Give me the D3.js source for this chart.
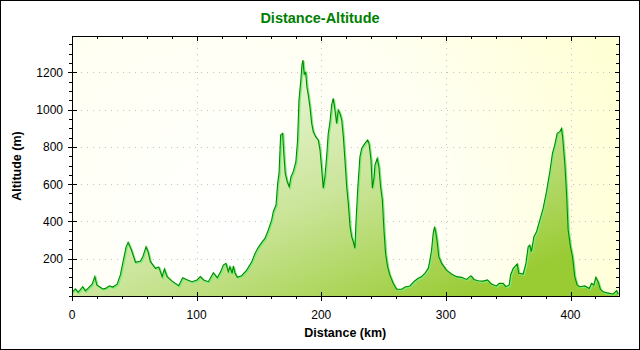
<!DOCTYPE html>
<html><head><meta charset="utf-8">
<script src="https://cdn.jsdelivr.net/npm/d3@7/dist/d3.min.js"></script>
<style>body{margin:0;background:#fff}svg{display:block}</style>
</head><body>
<script>
const title = "Distance-Altitude";
const xTitle = "Distance (km)";
const yTitle = "Altitude (m)";
const xMajorTicks = [0, 100, 200, 300, 400];
const yMajorTicks = [200, 400, 600, 800, 1000, 1200];
const distanceKm = [0,2.7,4.9,8.6,10.7,13.4,16.1,18.3,19.9,22,24.7,26.9,30,32.7,36.2,38.8,41.5,43.4,45,47.6,50.9,54.9,56.8,59.4,61,62.9,66.9,69.6,72.3,74.1,76.3,80.3,85.6,88.8,92.3,96.3,100.3,103,105.6,109.4,113.4,116.5,119.3,121.4,123.5,125.4,126.7,128.5,129.4,130.7,132.6,136.1,140.2,144.2,146.9,149.5,152.1,154.8,157.5,160.2,161.5,163.7,165,166.1,167.4,169,170.1,171.1,172.7,174.3,175.7,177.5,179.6,181,182.1,183.5,184.5,185.3,186.3,187.5,188.5,189.6,190.9,192.3,193.6,195.5,197.6,199,200.3,201.6,202.9,204.3,205.6,207,208.3,209.6,211,212.3,213.6,215,216.4,217.7,219,220.4,221.7,223.1,224.4,225.7,227,227.8,229.2,231,232.4,235,237.2,238.3,239.9,241,242.4,243.1,244.9,246.2,247.6,249,250.3,251.6,253.2,255,257.7,260.5,264.5,267.2,271.1,275.1,277.8,280.5,283.2,285.8,287.2,288.5,289.8,290.9,292,293,294.3,296.6,300.5,304.5,308.6,312.6,316.6,320.1,322.5,325.9,329.9,333.4,336.6,340.6,342.8,345.9,348.1,350.8,351.9,354,357.2,358.5,362,364.2,366,367.3,368.6,370.6,372.7,375.4,378,380.7,383.4,385.5,387.3,389.3,391.4,392.8,393.6,395.4,396.8,398.1,400,401.6,403.4,405.3,407.5,411.5,415,416.8,418.7,420.3,422.1,424,426.2,428.8,431.5,434.2,436.9,438.2];
const altitudeM = [20,38,20,50,27,45,63,104,59,50,38,41,55,48,63,113,202,264,288,248,181,188,211,264,238,184,149,156,104,145,104,80,55,98,87,77,86,104,86,77,125,98,131,166,175,131,157,122,161,125,100,109,139,184,229,261,286,309,354,408,452,488,604,658,864,873,747,658,613,586,640,667,720,837,1051,1150,1240,1266,1190,1200,1120,1078,1015,926,881,855,837,783,685,578,640,747,873,935,1024,1060,998,926,998,980,944,855,730,586,497,372,318,291,256,390,569,747,792,819,837,819,730,578,640,703,738,694,586,515,354,229,157,113,68,36,36,48,54,82,95,104,122,148,193,247,336,372,336,291,211,175,139,118,104,100,89,109,89,82,80,86,64,54,68,68,50,59,113,148,172,122,118,175,264,273,238,318,345,408,470,560,667,765,810,873,882,899,855,712,551,354,264,211,104,59,50,54,41,68,59,100,77,36,23,18,14,11,29,10];

const W = 640, H = 350;
const L = 72, R = 618.5, T = 36, B = 296;
const svg = d3.select("body").append("svg").attr("width", W).attr("height", H);
const defs = svg.append("defs");

const bg = defs.append("radialGradient").attr("id","bg").attr("gradientUnits","userSpaceOnUse")
  .attr("cx", 230).attr("cy", 230).attr("r", 420);
bg.append("stop").attr("offset","0").attr("stop-color","#ffffff");
bg.append("stop").attr("offset","0.55").attr("stop-color","#fffff2");
bg.append("stop").attr("offset","1").attr("stop-color","#ffffd4");

const ag = defs.append("linearGradient").attr("id","ag").attr("gradientUnits","userSpaceOnUse")
  .attr("x1", 300).attr("y1", 40).attr("x2", 420).attr("y2", 320);
ag.append("stop").attr("offset","0").attr("stop-color","#eff8e0");
ag.append("stop").attr("offset","0.5").attr("stop-color","#cbe59a");
ag.append("stop").attr("offset","1").attr("stop-color","#99cb33");

const x = d3.scaleLinear().domain([0, 438.5]).range([L, R]);
const y = d3.scaleLinear().domain([0, 1395]).range([B, T]);

svg.append("rect").attr("x",0.5).attr("y",0.5).attr("width",W-1).attr("height",H-1)
  .attr("fill","#fff").attr("stroke","#000");
svg.append("rect").attr("x",L).attr("y",T).attr("width",R-L).attr("height",B-T).attr("fill","url(#bg)");

// grid
const g = svg.append("g").attr("stroke","#c4c4c4").attr("stroke-dasharray","1,5");
yMajorTicks.forEach(v => { const yy = Math.round(y(v))+0.5;
  g.append("line").attr("x1",L+3).attr("x2",R).attr("y1",yy).attr("y2",yy); });
xMajorTicks.slice(1).forEach(v => { const xx = Math.round(x(v))+0.5;
  g.append("line").attr("x1",xx).attr("x2",xx).attr("y1",T).attr("y2",B); });

const pts = distanceKm.map((d,i)=>[d, altitudeM[i]]);
const area = d3.area().x(d=>x(d[0])).y0(B).y1(d=>y(d[1]));
const line = d3.line().x(d=>x(d[0])).y(d=>y(d[1]));
svg.append("path").datum(pts).attr("d", area).attr("fill","url(#ag)");
svg.append("path").datum(pts).attr("d", line).attr("fill","none").attr("stroke","#7ced7c")
  .attr("stroke-width",1.6).attr("transform","translate(1,1)");
svg.append("path").datum(pts).attr("d", line).attr("fill","none").attr("stroke","#008a00")
  .attr("stroke-width",1.1);

// axes frame
const ax = svg.append("g").attr("stroke","#000").attr("stroke-width",1).attr("shape-rendering","crispEdges");
ax.append("line").attr("x1",L+0.5).attr("x2",L+0.5).attr("y1",T).attr("y2",B+1);
ax.append("line").attr("x1",L).attr("x2",R+1).attr("y1",B+0.5).attr("y2",B+0.5);
ax.append("line").attr("x1",L).attr("x2",R+1).attr("y1",T+0.5).attr("y2",T+0.5);
ax.append("line").attr("x1",R+0.5).attr("x2",R+0.5).attr("y1",T).attr("y2",B+1);

const xMinor = d3.range(0, 439, 20);
const yMinor = d3.range(0, 1396, 50);
xMinor.forEach(v => { const xx = Math.round(x(v))+0.5; const maj = v % 100 === 0;
  ax.append("line").attr("x1",xx).attr("x2",xx).attr("y1",B+1).attr("y2",B+(maj?5:3));
  if (maj) ax.append("line").attr("x1",xx).attr("x2",xx).attr("y1",B-4).attr("y2",B);
  ax.append("line").attr("x1",xx).attr("x2",xx).attr("y1",T+1).attr("y2",T+(maj?5:3)); });
yMinor.forEach(v => { const yy = Math.round(y(v))+0.5; const maj = v % 200 === 0 && v>0;
  ax.append("line").attr("x1",L-(maj?4:3)).attr("x2",L).attr("y1",yy).attr("y2",yy);
  if (maj) ax.append("line").attr("x1",L+1).attr("x2",L+5).attr("y1",yy).attr("y2",yy);
  ax.append("line").attr("x1",R-(maj?4:3)).attr("x2",R).attr("y1",yy).attr("y2",yy); });

const font = "Arial, 'Liberation Sans', sans-serif";
svg.append("g").selectAll("text").data(xMajorTicks).join("text")
  .attr("x", d=>x(d)).attr("y", 319).attr("text-anchor","middle")
  .attr("font-family",font).attr("font-size",12).attr("fill","#000").text(d=>d);
svg.append("g").selectAll("text").data(yMajorTicks).join("text")
  .attr("x", 63).attr("y", d=>y(d)+4.5).attr("text-anchor","end")
  .attr("font-family",font).attr("font-size",12).attr("fill","#000").text(d=>d);

svg.append("text").attr("x", 320).attr("y", 23).attr("text-anchor","middle")
  .attr("font-family",font).attr("font-size",14.5).attr("font-weight","bold").attr("fill","#008000").text(title);
svg.append("text").attr("x", (L+R)/2).attr("y", 337).attr("text-anchor","middle")
  .attr("font-family",font).attr("font-size",12.5).attr("font-weight","bold").attr("fill","#000").text(xTitle);
svg.append("text").attr("transform", `translate(21,${(T+B)/2}) rotate(-90)`).attr("text-anchor","middle")
  .attr("font-family",font).attr("font-size",12.5).attr("font-weight","bold").attr("fill","#000").text(yTitle);
</script>
</body></html>
